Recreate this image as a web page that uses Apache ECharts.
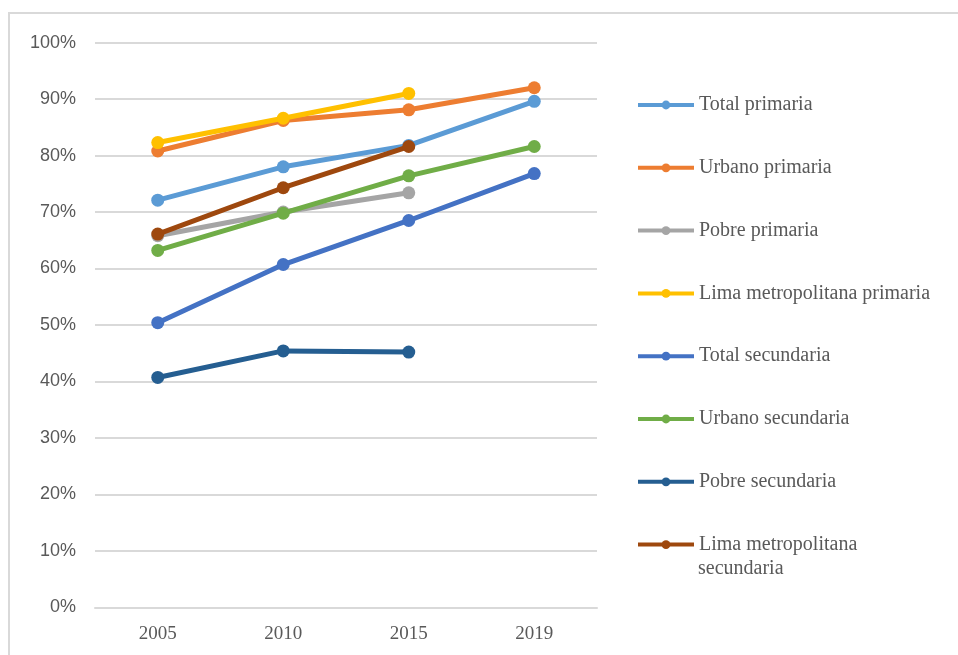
<!DOCTYPE html>
<html>
<head>
<meta charset="utf-8">
<script src="https://cdn.jsdelivr.net/npm/echarts@6/dist/echarts.min.js"></script>
<style>
html,body{margin:0;padding:0;background:#fff;}
#chart{width:958px;height:655px;}
</style>
</head>
<body>
<div id="chart"></div>
<script>
const categories = ['2005', '2010', '2015', '2019'];
const yTicks = [0, 10, 20, 30, 40, 50, 60, 70, 80, 90, 100];

const totalPrimaria = [72.1, 78.0, 81.8, 89.6];
const urbanoPrimaria = [80.8, 86.2, 88.1, 92.0];
const pobrePrimaria = [65.8, 70.0, 73.4, null];
const limaPrimaria = [82.3, 86.6, 91.0, null];
const totalSecundaria = [50.4, 60.7, 68.5, 76.8];
const urbanoSecundaria = [63.2, 69.8, 76.4, 81.6];
const pobreSecundaria = [40.7, 45.4, 45.2, null];
const limaSecundaria = [66.1, 74.3, 81.6, null];

const seriesNames = ['Total primaria', 'Urbano primaria', 'Pobre primaria', 'Lima metropolitana primaria',
  'Total secundaria', 'Urbano secundaria', 'Pobre secundaria', 'Lima metropolitana secundaria'];
const seriesData = [totalPrimaria, urbanoPrimaria, pobrePrimaria, limaPrimaria,
  totalSecundaria, urbanoSecundaria, pobreSecundaria, limaSecundaria];
const colors = ['#5B9BD5', '#ED7D31', '#A5A5A5', '#FFC000', '#4472C4', '#70AD47', '#255E91', '#9E480E'];

const chart = echarts.init(document.getElementById('chart'));
const serif = '"Liberation Serif", "Times New Roman", serif';
const sans = '"Liberation Sans", Arial, sans-serif';

chart.setOption({
  animation: false,
  color: colors,
  graphic: [{
    type: 'rect',
    shape: { x: 9, y: 13, width: 1200, height: 900 },
    style: { fill: 'none', stroke: '#d9d9d9', lineWidth: 2 },
    silent: true
  }, {
    type: 'text',
    left: 698,
    top: 559,
    silent: true,
    style: { text: 'secundaria', font: '20px ' + serif, fill: '#595959' }
  }],
  grid: { left: 95, right: 361, top: 42.6, bottom: 47.7 },
  legend: {
    orient: 'vertical',
    left: 636,
    top: 95,
    padding: 0,
    itemWidth: 56,
    itemHeight: 11,
    itemGap: 42.8,
    data: seriesNames,
    formatter: function (name) {
      return name === 'Lima metropolitana secundaria' ? 'Lima metropolitana' : name;
    },
    lineStyle: { width: 4 },
    textStyle: { fontFamily: serif, fontSize: 20, color: '#595959', lineHeight: 20 }
  },
  xAxis: {
    type: 'category',
    data: categories,
    boundaryGap: true,
    axisLine: { show: true, lineStyle: { color: '#d9d9d9', width: 2 } },
    axisTick: { show: false },
    axisLabel: { fontFamily: serif, fontSize: 19, color: '#595959', margin: 17 }
  },
  yAxis: {
    type: 'value',
    min: yTicks[0],
    max: yTicks[yTicks.length - 1],
    interval: 10,
    axisLine: { show: false },
    axisTick: { show: false },
    splitLine: { lineStyle: { color: '#d9d9d9', width: 2 } },
    axisLabel: { fontFamily: sans, fontSize: 18, color: '#595959', margin: 19, formatter: '{value}%' }
  },
  series: seriesNames.map((n, i) => ({
    name: n,
    type: 'line',
    data: seriesData[i],
    symbol: 'circle',
    symbolSize: 13,
    lineStyle: { width: 5, color: colors[i] },
    itemStyle: { color: colors[i] },
    z: 2 + i
  }))
});
</script>
</body>
</html>
